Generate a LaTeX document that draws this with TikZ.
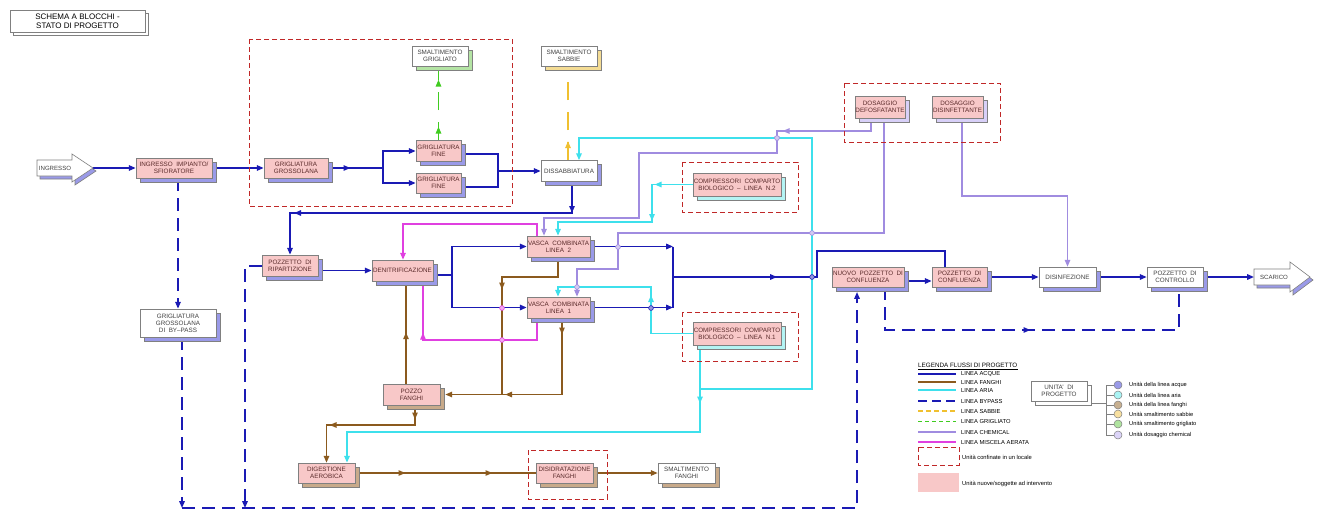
\documentclass[tikz,border=0pt]{standalone}
\usepackage{fontspec}
\setmainfont{Liberation Sans}
\usetikzlibrary{arrows.meta,shadows,decorations.markings}
\pgfdeclarelayer{back}
\pgfdeclarelayer{bg}
\pgfsetlayers{back,bg,main}
\definecolor{cAcq}{HTML}{1A1AB4}
\definecolor{cFan}{HTML}{8B5A1E}
\definecolor{cAri}{HTML}{3EE0EC}
\definecolor{cChe}{HTML}{A08CE0}
\definecolor{cMis}{HTML}{E040E0}
\definecolor{cGri}{HTML}{40CC20}
\definecolor{cSab}{HTML}{F0C030}
\definecolor{cRed}{HTML}{C02828}
\definecolor{fPink}{HTML}{F8C8C8}
\definecolor{sBlue}{HTML}{9A9AE8}
\definecolor{sTan}{HTML}{C8AA8A}
\definecolor{sCyan}{HTML}{B4F4F4}
\definecolor{sLav}{HTML}{D8D0F8}
\definecolor{sGreen}{HTML}{B4E4A4}
\definecolor{sYel}{HTML}{F4DC94}
\definecolor{bGray}{HTML}{808080}
\definecolor{tPink}{HTML}{5A2A2A}
\definecolor{tGray}{HTML}{404040}
\begin{document}
\begin{tikzpicture}[x=1pt,y=-1pt,
  >={Triangle[length=6.8pt,width=5.4pt]},
  ubox/.style={draw=bGray, line width=0.6pt, inner sep=0pt, align=center, font=\fontsize{6.3}{7}\selectfont},
  pk/.style={fill=fPink, text=tPink},
  wt/.style={fill=white, text=tGray},
  sh/.style={general shadow={shadow xshift=4pt, shadow yshift=-4pt, fill=#1, draw=bGray, line width=0.6pt}},
  sz/.style 2 args={minimum width=#1pt, minimum height=#2pt},
  acq/.style={color=cAcq, line width=1.6pt},
  fan/.style={color=cFan, line width=1.4pt},
  ari/.style={color=cAri, line width=1.6pt},
  che/.style={color=cChe, line width=1.3pt},
  mis/.style={color=cMis, line width=1.4pt},
  byp/.style={color=cAcq, line width=1.6pt, dash pattern=on 13pt off 7pt},
  grl/.style={color=cGri, line width=1.4pt, dash pattern=on 18pt off 12pt},
  sab/.style={color=cSab, line width=1.4pt, dash pattern=on 18pt off 12pt},
  loc/.style={draw=cRed, line width=0.9pt, dash pattern=on 5pt off 3pt},
  am/.style={postaction={decorate,decoration={markings,mark=at position #1 with {\arrow{>}}}}},
  xc/.style={draw=#1, fill=#1!45, line width=0.6pt},
  legt/.style={anchor=west, inner sep=0pt, font=\fontsize{5.8}{6.5}\selectfont, text=black},
  unt/.style={anchor=west, inner sep=0pt, font=\fontsize{5.7}{6.5}\selectfont, text=black},
  ucirc/.style={draw=bGray, fill=#1, line width=0.5pt}
]
\begin{pgfonlayer}{back}
\fill[white] (0,0) rectangle (1321,527);
\end{pgfonlayer}
\useasboundingbox (0,0) rectangle (1321,527);

% ---- title
\node[ubox, fill=white, text=black, sz={135}{22}, font=\fontsize{8}{9.4}\selectfont,
  general shadow={shadow xshift=3pt, shadow yshift=-3pt, fill=white, draw=bGray, line width=0.6pt}] (title) at (77.5,21) {SCHEMA A BLOCCHI -\\STATO DI PROGETTO};

% ---- arrows ingresso / scarico
\path[draw=bGray, fill=sBlue, line width=0.6pt, xshift=3pt, yshift=-3pt] (37,160)--(72,160)--(72,154)--(93,168)--(72,182)--(72,176)--(37,176)--cycle;
\path[draw=bGray, fill=white, line width=0.6pt] (37,160)--(72,160)--(72,154)--(93,168)--(72,182)--(72,176)--(37,176)--cycle;
\node[font=\fontsize{6.1}{7}\selectfont, text=tGray, inner sep=0pt] (ingresso) at (55,168) {INGRESSO};
\coordinate (ingtip) at (93,168);
\path[draw=bGray, fill=sBlue, line width=0.6pt, xshift=3pt, yshift=-3pt] (1254,269)--(1290,269)--(1290,262)--(1310,277)--(1290,292)--(1290,285)--(1254,285)--cycle;
\path[draw=bGray, fill=white, line width=0.6pt] (1254,269)--(1290,269)--(1290,262)--(1310,277)--(1290,292)--(1290,285)--(1254,285)--cycle;
\node[font=\fontsize{6.1}{7}\selectfont, text=tGray, inner sep=0pt] (scarico) at (1274,277) {SCARICO};
\coordinate (scatail) at (1254,277);

% ---- local (dashed red) boxes
\draw[loc] (249,39) rectangle (512,206);
\draw[loc] (682,162) rectangle (798,212);
\draw[loc] (682,312) rectangle (798,361);
\draw[loc] (844,83) rectangle (1000,142);
\draw[loc] (528,450) rectangle (607,499);

% ---- units
\node[ubox,pk,sh=sBlue,sz={76}{20}] (sfior) at (174,168) {INGRESSO\ \ IMPIANTO/\\SFIORATORE};
\node[ubox,pk,sh=sBlue,sz={64}{20}] (ggross) at (296,168) {GRIGLIATURA\\GROSSOLANA};
\node[ubox,pk,sh=sBlue,sz={45}{21}] (gfine1) at (438.5,151) {GRIGLIATURA\\FINE};
\node[ubox,pk,sh=sBlue,sz={45}{20}] (gfine2) at (438.5,183) {GRIGLIATURA\\FINE};
\node[ubox,wt,sh=sGreen,sz={56}{20}] (smgrig) at (440,56) {SMALTIMENTO\\GRIGLIATO};
\node[ubox,wt,sh=sBlue,sz={56}{21}] (dissab) at (569,171) {DISSABBIATURA};
\node[ubox,wt,sh=sYel,sz={56}{20}] (smsab) at (569,56) {SMALTIMENTO\\SABBIE};
\node[ubox,pk,sh=sBlue,sz={56}{21}] (pozrip) at (290,265.5) {POZZETTO\ \ DI\\RIPARTIZIONE};
\node[ubox,pk,sh=sBlue,sz={61}{21}] (denit) at (402.5,270.5) {DENITRIFICAZIONE};
\node[ubox,pk,sh=sBlue,sz={63}{21}] (vasca2) at (558.5,246.5) {VASCA\ \ COMBINATA\\LINEA\ \ 2};
\node[ubox,pk,sh=sBlue,sz={63}{21}] (vasca1) at (558.5,307.5) {VASCA\ \ COMBINATA\\LINEA\ \ 1};
\node[ubox,pk,sh=sCyan,sz={88}{23}] (comp2) at (737,184.5) {COMPRESSORI\ \ COMPARTO\\BIOLOGICO\ \ --\ \ LINEA\ \ N.2};
\node[ubox,pk,sh=sCyan,sz={88}{23}] (comp1) at (737,333.5) {COMPRESSORI\ \ COMPARTO\\BIOLOGICO\ \ --\ \ LINEA\ \ N.1};
\node[ubox,pk,sh=sLav,sz={50}{22}] (defos) at (880,107) {DOSAGGIO\\DEFOSFATANTE};
\node[ubox,pk,sh=sLav,sz={51}{22}] (dosdis) at (957.5,107) {DOSAGGIO\\DISINFETTANTE};
\node[ubox,pk,sh=sBlue,sz={72}{20}] (nuovo) at (868,277) {NUOVO\ \ POZZETTO\ \ DI\\CONFLUENZA};
\node[ubox,pk,sh=sBlue,sz={55}{20}] (pozconf) at (959.5,277) {POZZETTO\ \ DI\\CONFLUENZA};
\node[ubox,wt,sh=sBlue,sz={57}{20}] (disinfez) at (1067.5,277) {DISINFEZIONE};
\node[ubox,wt,sh=sBlue,sz={56}{20}] (pozcontr) at (1175,277) {POZZETTO\ \ DI\\CONTROLLO};
\node[ubox,wt,sh=sBlue,sz={76}{28}] (bypassg) at (178,323) {GRIGLIATURA\\GROSSOLANA\\DI\ \ BY--PASS};
\node[ubox,pk,sh=sTan,sz={57}{21}] (pozzof) at (411.5,394.5) {POZZO\\FANGHI};
\node[ubox,pk,sh=sTan,sz={57}{20}] (digest) at (326.5,473) {DIGESTIONE\\AEROBICA};
\node[ubox,pk,sh=sTan,sz={57}{20}] (disidr) at (564.5,473) {DISIDRATAZIONE\\FANGHI};
\node[ubox,wt,sh=sTan,sz={57}{20}] (smfang) at (686.5,473) {SMALTIMENTO\\FANGHI};
\node[ubox,wt,sh=white,sz={56}{20}] (unita) at (1059,391) {UNITA’\ \ DI\\PROGETTO};

\begin{pgfonlayer}{bg}
% ---- water line
\draw[acq,->] (ingtip) -- (sfior.west);
\draw[acq,->] (sfior.east) -- (ggross.west);
\coordinate (split) at (383,168);
\draw[acq,am=22pt] (ggross.east) -- (split);
\draw[acq,->] (split) |- (gfine1.west);
\draw[acq,->] (split) |- (gfine2.west);
\coordinate (merge) at (498,171);
\draw[acq] (gfine1.east |- 0,154) -| (merge);
\draw[acq] (gfine2.east |- 0,187) -| (merge);
\draw[acq,->] (merge) -- (dissab.west);
\draw[acq,->,am=31pt,am=309pt] (572,0 |- dissab.south) -- (572,213) -| (pozrip.north);
\draw[acq,->] (pozrip.east |- denit.west) -- (denit.west);
\coordinate (dsplit) at (452,275);
\draw[acq] (denit.east |- dsplit) -- (dsplit);
\draw[acq,->] (dsplit) |- (vasca2.west);
\draw[acq,->] (dsplit) |- (vasca1.west);
\coordinate (vm2) at (673,246.5);
\coordinate (vm1) at (673,307.5);
\coordinate (vout) at (673,277);
\draw[acq,->] (vasca2.east) -- (vm2);
\draw[acq,->] (vasca1.east) -- (vm1);
\draw[acq] (vm2) -- (vm1);
\draw[acq,am=104pt] (vout) -- (817,277) -- (817,251) -| (945,0 |- pozconf.north);
\draw[acq,->] (nuovo.east |- 0,281) -- (pozconf.west |- 0,281);
\draw[acq,->] (pozconf.east) -- (disinfez.west);
\draw[acq,->] (disinfez.east) -- (pozcontr.west);
\draw[acq,->] (pozcontr.east) -- (scatail);

% ---- bypass
\draw[byp,am=188pt] (885,0 |- nuovo.south) |- (1179,330) -- (1179,0 |- pozcontr.south);
\draw[byp,->] (178,0 |- sfior.south) -- (178,0 |- bypassg.north);
\coordinate (bbl) at (182,508);
\draw[byp,->] (182,0 |- bypassg.south) -- (bbl);
\draw[byp,->] (pozrip.west |- 0,266) -| (245,508);
\draw[byp,->] (bbl) -- (857,508) -- (857,292);

% ---- grigliato / sabbie
\draw[grl,am=13.5pt,am=60.5pt] (gfine1.north) -- (gfine1.north |- 0,70);
\draw[sab,am=19pt] (568,0 |- dissab.north) -- (568,70);

% ---- miscela aerata
\draw[mis,->] (537,0 |- vasca2.north) |- (403,224) -- (403,0 |- denit.north);
\draw[mis,am=143pt] (537,0 |- vasca1.south) |- (423,340) -- (423,285);

% ---- fanghi
\draw[fan,am=88pt] (558,0 |- vasca2.south) |- (502,277) -- (502,394.5);
\draw[fan,->,am=16pt,am=133pt] (562,0 |- vasca1.south) -- (562,394.5) -- ([xshift=5pt]pozzof.east);
\draw[fan,am=0.52] (406,0 |- pozzof.north) -- (406,285);
\draw[fan,->,am=14pt,am=105pt] (415,0 |- pozzof.south) -- (415,425) -- (326.5,425) -- (digest.north);
\draw[fan,am=50pt,am=137pt] (digest.east) -- (disidr.west);
\draw[fan,->] ([xshift=4pt]disidr.east) -- (smfang.west);

% ---- aria
\draw[ari,->,am=38pt,am=77pt] (comp2.west) -| (652,222) -| (558,0 |- vasca2.north);
\draw[ari,->,am=80pt] (comp1.west) -| (651,287) -| (558,0 |- vasca1.north);
\coordinate (aj) at (700,389);
\draw[ari,->,am=58pt] (700,0 |- comp1.south) -- (700,432) -| (347,0 |- digest.north);
\draw[ari,->] (aj) -| (812,138) -| (579,0 |- dissab.north);

% ---- chemical
\draw[che,->,am=101pt,am=119pt] (871,0 |- defos.south) -- (871,131) -| (777,153) -| (639,218) -| (544,0 |- vasca2.north);
\draw[che,->] (884,0 |- defos.south) -- (884,233) -| (618,269) -| (577,0 |- vasca1.north);
\draw[che,->] (962,0 |- dosdis.south) |- (1067.5,196) -- (disinfez.north);
\end{pgfonlayer}

% ---- crossing marks
\foreach \p/\c in {{812,277}/cAcq, {812,233}/cChe, {777,138}/cChe, {618,247}/cChe, {577,287}/cChe, {651,308}/cAcq, {502,308}/cMis, {502,340}/cMis}
  \draw[xc=\c] (\p) circle[radius=2.4pt];

% ---- legend
\node[legt, font=\fontsize{6.3}{7}\selectfont] (legtitle) at (918,365.5) {LEGENDA FLUSSI DI PROGETTO};
\draw[line width=0.5pt] (918,369.5) -- (1018,369.5);
\draw[acq] (918,374) -- (956,374); \node[legt] (l1) at (961,374) {LINEA ACQUE};
\draw[fan] (918,382) -- (956,382); \node[legt] (l2) at (961,382) {LINEA FANGHI};
\draw[ari] (918,390) -- (956,390); \node[legt] (l3) at (961,390) {LINEA ARIA};
\draw[byp, dash pattern=on 9pt off 5pt] (918,401) -- (956,401); \node[legt] (l4) at (961,401) {LINEA BYPASS};
\draw[sab, line width=1.1pt, dash pattern=on 5pt off 3pt] (918,411) -- (956,411); \node[legt] (l5) at (961,411) {LINEA SABBIE};
\draw[grl, line width=0.9pt, dash pattern=on 4pt off 3pt] (918,421) -- (956,421); \node[legt] (l6) at (961,421) {LINEA GRIGLIATO};
\draw[che] (918,432) -- (956,432); \node[legt] (l7) at (961,432) {LINEA CHEMICAL};
\draw[mis] (918,442) -- (956,442); \node[legt] (l8) at (961,442) {LINEA MISCELA AERATA};
\draw[loc] (918,447) rectangle (959,465); \node[legt] (l9) at (962,457) {Unità confinate in un locale};
\fill[fPink] (918,473) rectangle (959,492); \node[legt] (l10) at (962,484) {Unità nuove/soggette ad intervento};

% ---- units legend
\draw[bGray, line width=0.6pt] (1091,403) -- (1106,403);
\draw[bGray, line width=0.6pt] (1106,385) -- (1106,435);
\foreach \yy/\cc/\tt in {385/9A9AE8/Unità della linea acque, 395/AAF4F4/Unità della linea aria, 405/C8B090/Unità della linea fanghi, 414/F8E0A0/Unità smaltimento sabbie, 424/B0E4A0/Unità smaltimento grigliato, 435/DCD4F8/Unità dosaggio chemical}{
  \definecolor{tmpc}{HTML}{\cc}
  \draw[bGray, line width=0.6pt] (1106,\yy) -- (1114,\yy);
  \draw[ucirc=tmpc] (1118,\yy) circle[radius=4pt];
  \node[unt] at (1129,\yy) {\tt};
}
\end{tikzpicture}
\end{document}
